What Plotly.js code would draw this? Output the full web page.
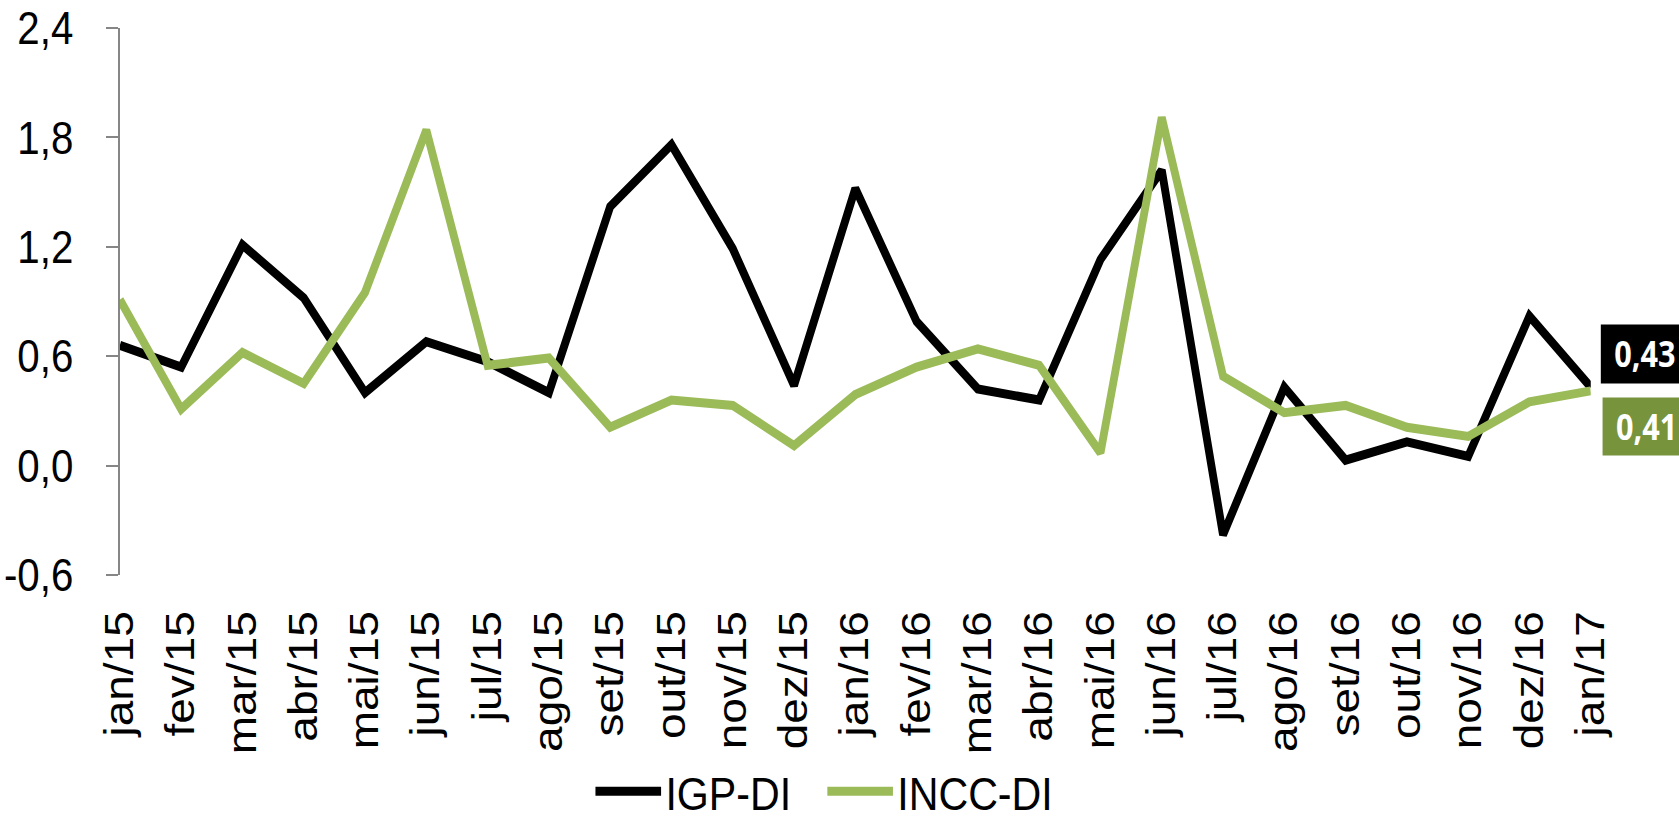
<!DOCTYPE html>
<html>
<head>
<meta charset="utf-8">
<script src="https://cdn.plot.ly/plotly-3.0.1.min.js"></script>
<style>
  html, body { margin: 0; padding: 0; background: #ffffff; overflow: hidden; }
  #wrap { width: 1679px; height: 821px; overflow: hidden; }
  #chart { width: 1919px; height: 821px; transform: scaleX(0.875); transform-origin: 0 0; }
</style>
</head>
<body>
<div id="wrap"><div id="chart"></div></div>
<script>
// ---- data ----
const months = ["jan/15","fev/15","mar/15","abr/15","mai/15","jun/15","jul/15","ago/15","set/15","out/15","nov/15","dez/15",
                "jan/16","fev/16","mar/16","abr/16","mai/16","jun/16","jul/16","ago/16","set/16","out/16","nov/16","dez/16","jan/17"];
const igpDI  = [0.66, 0.54, 1.21, 0.92, 0.40, 0.68, 0.57, 0.40, 1.42, 1.76, 1.19, 0.44,
                1.52, 0.79, 0.42, 0.36, 1.13, 1.62, -0.38, 0.43, 0.03, 0.13, 0.05, 0.82, 0.43];
const inccDI = [0.91, 0.31, 0.62, 0.45, 0.95, 1.84, 0.55, 0.59, 0.21, 0.36, 0.33, 0.11,
                0.39, 0.54, 0.64, 0.55, 0.07, 1.91, 0.49, 0.29, 0.33, 0.21, 0.16, 0.35, 0.41];
const seriesNames = ["IGP-DI", "INCC-DI"];
const yTicks = [-0.6, 0.0, 0.6, 1.2, 1.8, 2.4];

// ---- styles ----
const BLACK = "#000000";
const GREEN = "#9BBB59";
const GREEN_DARK = "#77933C";
const AXIS = "#868686";
const FONT = "Liberation Sans, Arial, sans-serif";

const idx = months.map((m, i) => i);
const fmt = (v, d) => v.toFixed(d).replace(".", ",");

const traces = [
  { type: "scatter", mode: "lines", name: seriesNames[0], x: months, y: igpDI,
    line: { color: BLACK, width: 9 }, cliponaxis: false, hoverinfo: "skip" },
  { type: "scatter", mode: "lines", name: seriesNames[1], x: months, y: inccDI,
    line: { color: GREEN, width: 9 }, cliponaxis: false, hoverinfo: "skip" }
];

const lastI = months.length - 1;

const layout = {
  width: 1919, height: 821,
  margin: { l: 137, r: 101, t: 28, b: 246, autoexpand: false },
  paper_bgcolor: "#ffffff", plot_bgcolor: "#ffffff",
  separators: ",.",
  font: { family: FONT, color: "#000000", size: 45 },
  showlegend: true,
  legend: {
    orientation: "h", x: 0.478, xanchor: "center", y: -0.396, yanchor: "middle",
    font: { family: FONT, size: 47, color: "#000000" },
    itemwidth: 75, entrywidth: 175, entrywidthmode: "pixels",
    traceorder: "normal", bgcolor: "rgba(0,0,0,0)"
  },
  xaxis: {
    type: "category", range: [0, lastI], showline: false, ticks: "", showgrid: false, zeroline: false,
    tickangle: -90, tickfont: { family: FONT, size: 46, color: "#000000" },
    ticklabelstandoff: 26, anchor: "y", automargin: false
  },
  xaxis2: {
    overlaying: "x", anchor: "free", position: 0.2, side: "bottom", type: "linear",
    range: [0, lastI], tickmode: "array", tickvals: idx, showticklabels: false,
    ticks: "outside", ticklen: 14, tickwidth: 2, tickcolor: AXIS,
    showline: true, linecolor: AXIS, linewidth: 2, showgrid: false, zeroline: false
  },
  yaxis: {
    range: [-0.6, 2.4], tickmode: "array", tickvals: yTicks, ticktext: yTicks.map(v => fmt(v, 1)),
    ticks: "outside", ticklen: 14, tickwidth: 2, tickcolor: AXIS,
    showline: true, linecolor: AXIS, linewidth: 2, showgrid: false, zeroline: false,
    tickfont: { family: FONT, size: 46, color: "#000000" }, ticklabelstandoff: 28, automargin: false
  },
  annotations: [
    { xref: "paper", yref: "y", x: 1.0063, y: igpDI[lastI], xanchor: "left", yanchor: "middle", yshift: 33,
      text: "<b>" + fmt(igpDI[lastI], 2) + "</b>", showarrow: false, width: 100, height: 58, align: "center",
      bgcolor: BLACK, borderpad: 0, font: { family: "Open Sans, sans-serif", size: 35, color: "#ffffff" } },
    { xref: "paper", yref: "y", x: 1.0075, y: inccDI[lastI], xanchor: "left", yanchor: "middle", yshift: -36,
      text: "<b>" + fmt(inccDI[lastI], 2) + "</b>", showarrow: false, width: 100, height: 57, align: "center",
      bgcolor: GREEN_DARK, borderpad: 0, font: { family: "Open Sans, sans-serif", size: 35, color: "#ffffff" } }
  ]
};

Plotly.newPlot("chart", traces, layout, { displayModeBar: false, responsive: false });
</script>
</body>
</html>
